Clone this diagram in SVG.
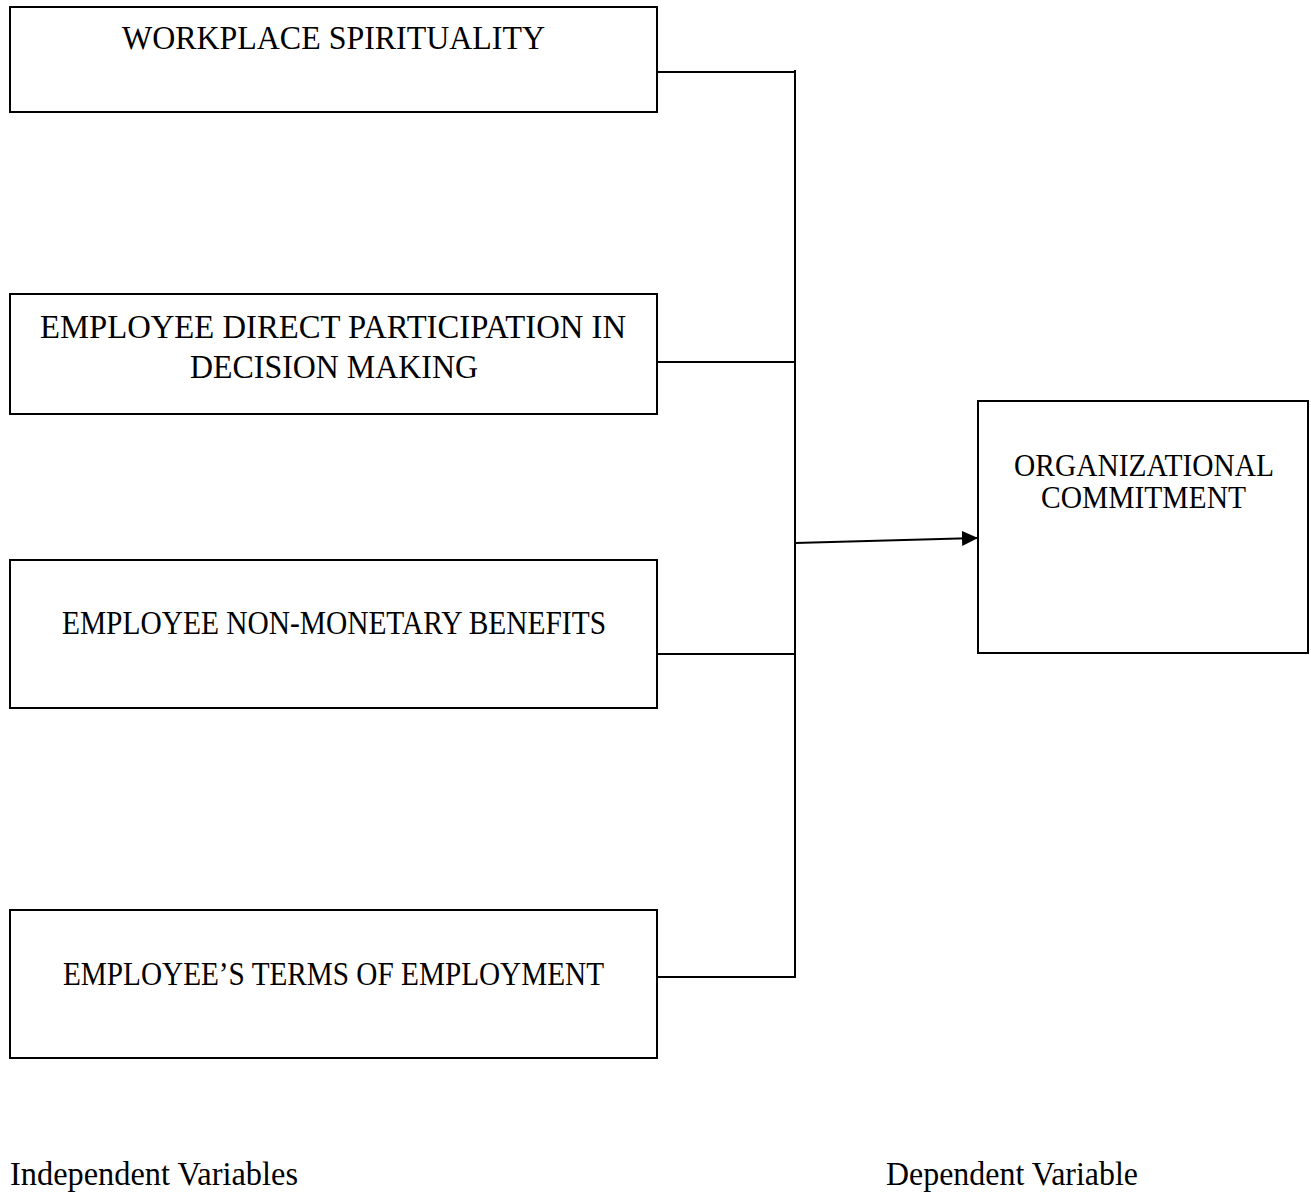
<svg xmlns="http://www.w3.org/2000/svg" width="1311" height="1192" viewBox="0 0 1311 1192">
<style>
.box{fill:#fff;stroke:#000;stroke-width:2}
.t{font-family:"Liberation Serif","Times New Roman",serif;font-size:33px;fill:#000}
.s{font-family:"Liberation Serif","Times New Roman",serif;font-size:31px;fill:#000}
.b{font-family:"Liberation Serif","Times New Roman",serif;font-size:34px;fill:#000}
.c{fill:none;stroke:#000;stroke-width:2}
</style>
<defs>
<marker id="ah" markerWidth="16" markerHeight="16" refX="15" refY="7.5" orient="auto" markerUnits="userSpaceOnUse" viewBox="0 0 16 15">
<path d="M0,0 L16,7.5 L0,15 z" fill="#000"/>
</marker>
</defs>
<rect width="1311" height="1192" fill="#fff"/>
<g id="connectors">
<path class="c" d="M657,72 H795 M657,362 H795 M657,654 H795 M657,977 H795 M795,70 V978"/>
<path class="c" d="M795,543 L977,538" marker-end="url(#ah)"/>
</g>
<g id="n1">
<rect class="box" x="10" y="7" width="647" height="105"/>
<text class="t" x="122" y="49" textLength="423" lengthAdjust="spacingAndGlyphs">WORKPLACE SPIRITUALITY</text>
</g>
<g id="n2">
<rect class="box" x="10" y="294" width="647" height="120"/>
<text class="t" x="40" y="338" textLength="586" lengthAdjust="spacingAndGlyphs">EMPLOYEE DIRECT PARTICIPATION IN</text>
<text class="t" x="190" y="378" textLength="288" lengthAdjust="spacingAndGlyphs">DECISION MAKING</text>
</g>
<g id="n3">
<rect class="box" x="10" y="560" width="647" height="148"/>
<text class="t" x="62" y="634" textLength="544" lengthAdjust="spacingAndGlyphs">EMPLOYEE NON-MONETARY BENEFITS</text>
</g>
<g id="n4">
<rect class="box" x="10" y="910" width="647" height="148"/>
<text class="t" x="63" y="985" textLength="541" lengthAdjust="spacingAndGlyphs">EMPLOYEE’S TERMS OF EMPLOYMENT</text>
</g>
<g id="n5">
<rect class="box" x="978" y="401" width="330" height="252"/>
<text class="s" x="1014" y="476" textLength="260" lengthAdjust="spacingAndGlyphs">ORGANIZATIONAL</text>
<text class="s" x="1041" y="508" textLength="205" lengthAdjust="spacingAndGlyphs">COMMITMENT</text>
</g>
<g id="labels">
<text class="b" x="10" y="1185" textLength="288" lengthAdjust="spacingAndGlyphs">Independent Variables</text>
<text class="b" x="886" y="1185" textLength="252" lengthAdjust="spacingAndGlyphs">Dependent Variable</text>
</g>
</svg>
